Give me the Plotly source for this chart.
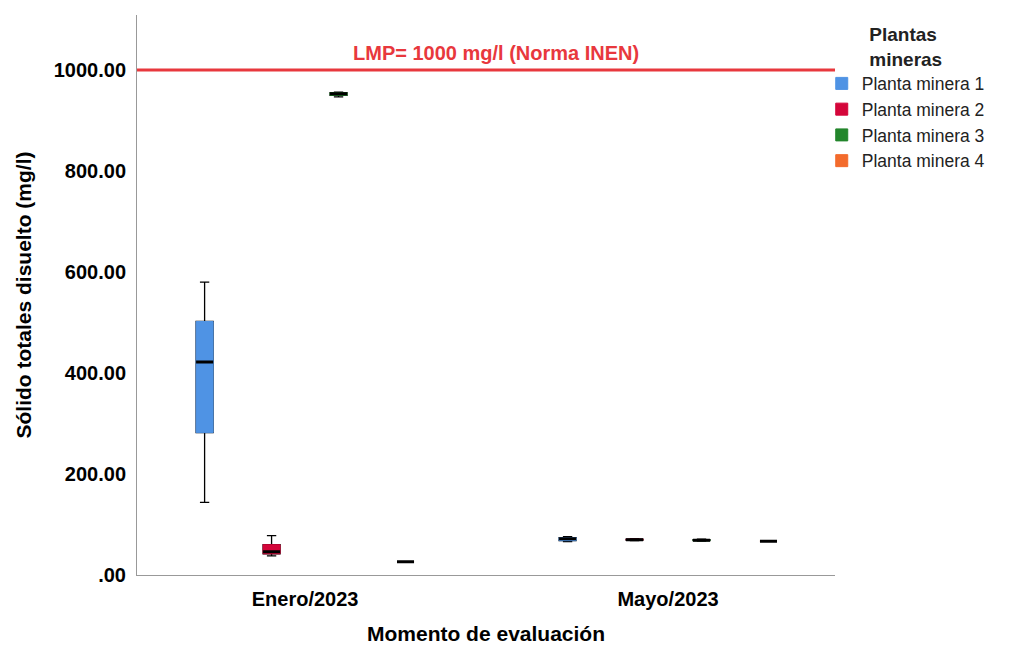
import plotly.graph_objects as go

categories = ["Enero/2023", "Mayo/2023"]
plantas = ["Planta minera 1", "Planta minera 2", "Planta minera 3", "Planta minera 4"]
colors = ["#4f93e4", "#d4063a", "#23862c", "#f36b2c"]

# box statistics per planta: [Enero, Mayo]
lowerfence = [[144, 66], [38, 68], [947, 67], [26, 67]]
q1 = [[282, 68], [42, 69], [950, 68], [26, 67]]
median = [[422, 72], [46, 70], [953, 69], [26, 67]]
q3 = [[502, 74], [60, 71], [955, 70], [26, 67]]
upperfence = [[580, 76], [78, 72], [956, 71], [26, 67]]

lmp = 1000
ytickvals = [0, 200, 400, 600, 800, 1000]
yticktext = [".00", "200.00", "400.00", "600.00", "800.00", "1000.00"]

fig = go.Figure()
for i, name in enumerate(plantas):
    og = f"g{i}"
    # whiskers layer (black)
    fig.add_trace(go.Box(
        x=categories, q1=q1[i], median=median[i], q3=q3[i],
        lowerfence=lowerfence[i], upperfence=upperfence[i],
        offsetgroup=og, line=dict(color="black", width=1.3),
        fillcolor="rgba(0,0,0,0)", whiskerwidth=0.55,
        showlegend=False, hoverinfo="skip", boxpoints=False,
    ))
    # coloured box layer
    fig.add_trace(go.Box(
        x=categories, q1=q1[i], median=q1[i], q3=q3[i],
        lowerfence=q1[i], upperfence=q3[i],
        offsetgroup=og, line=dict(color=colors[i], width=1),
        fillcolor=colors[i], whiskerwidth=0,
        name=name, showlegend=True, boxpoints=False,
    ))
    # median layer (thick black)
    fig.add_trace(go.Box(
        x=categories, q1=median[i], median=median[i], q3=median[i],
        lowerfence=median[i], upperfence=median[i],
        offsetgroup=og, line=dict(color="black", width=3),
        fillcolor="rgba(0,0,0,0)", whiskerwidth=0,
        showlegend=False, hoverinfo="skip", boxpoints=False,
    ))

fig.add_hline(y=lmp, line=dict(color="#e8383d", width=3))
fig.add_annotation(
    x=0.514, xref="paper", y=lmp, yref="y", yanchor="bottom", yshift=4,
    text="<b>LMP= 1000 mg/l (Norma INEN)</b>", showarrow=False,
    font=dict(color="#e8383d", size=20, family="Arial"),
)

fig.update_layout(
    width=1012, height=645,
    margin=dict(l=137, r=177, t=15, b=70, autoexpand=False),
    paper_bgcolor="white", plot_bgcolor="white",
    boxmode="group", boxgap=0.262, boxgroupgap=0.746,
    font=dict(family="Arial", size=16, color="black"),
    legend=dict(
        xref="container", yref="container",
        x=0.812, xanchor="left", y=0.975, yanchor="top",
        bgcolor="rgba(0,0,0,0)",
        title=dict(text="<b>Plantas<br>mineras</b>", font=dict(size=19), side="top center"),
        font=dict(size=17.5, color="#222"),
        itemwidth=30, tracegroupgap=0,
    ),
    xaxis=dict(
        type="category", range=[-0.463, 1.46], automargin=False,
        showline=True, linecolor="#999", linewidth=1,
        ticks="outside", ticklen=6, tickcolor="rgba(0,0,0,0)",
        tickfont=dict(size=20, family="Arial"),
        title=dict(text="<b>Momento de evaluación</b>", font=dict(size=21), standoff=20),
        showgrid=False, zeroline=False,
    ),
    yaxis=dict(
        range=[0, 1109], tickvals=ytickvals, ticktext=yticktext, automargin=False,
        showline=True, linecolor="#999", linewidth=1,
        ticks="outside", ticklen=6, tickcolor="rgba(0,0,0,0)",
        tickfont=dict(size=20, family="Arial"),
        title=dict(text="<b>Sólido totales disuelto (mg/l)</b>", font=dict(size=21), standoff=16),
        showgrid=False, zeroline=False,
    ),
)

# bold tick labels
fig.update_xaxes(ticktext=[f"<b>{c}</b>" for c in categories], tickvals=categories)
fig.update_yaxes(ticktext=[f"<b>{t}</b>" for t in yticktext])

fig.write_html("out.html")
